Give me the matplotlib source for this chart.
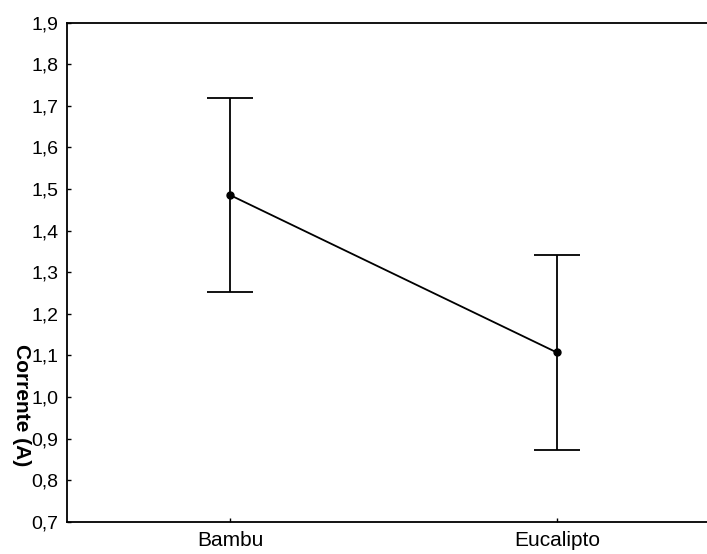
import numpy as np
import matplotlib.pyplot as plt

plt.rcParams['font.family'] = ['Liberation Sans', 'DejaVu Sans']

# mean current and confidence half-width per material
grupos = ['Bambu', 'Eucalipto']
media = [1.485, 1.107]
erro = [0.233, 0.234]

yticks = np.round(np.arange(0.7, 1.91, 0.1), 1)

fig = plt.figure(figsize=(7.07, 5.54), dpi=100)
# right edge runs past the figure, so the right spine is cut off
ax = fig.add_axes([0.0952, 0.0583, 0.9232, 0.9007])

x = np.arange(len(grupos))
ax.errorbar(x, media, yerr=erro, color='black', linewidth=1.3,
            elinewidth=1.3, capsize=16.5, capthick=1.3,
            marker='o', markersize=5)

ax.set_xlim(-0.5, 1.5)
ax.set_ylim(0.7, 1.9)
ax.set_xticks(x)
ax.set_xticklabels(grupos, fontsize=15)
ax.set_yticks(yticks)
ax.set_yticklabels([f'{v:.1f}'.replace('.', ',') for v in yticks], fontsize=14)
ax.tick_params(direction='in', length=3, width=1, pad=6.5)

for s in ['left', 'bottom', 'top', 'right']:
    ax.spines[s].set_linewidth(1.3)

# label reads top to bottom
ax.set_ylabel('Corrente (A)', fontsize=15, fontweight='bold',
              rotation=270, va='center', ha='center')
ax.yaxis.set_label_coords(21 / 707, 1 - 405 / 554, transform=fig.transFigure)

fig.savefig('out.png', dpi=100)
